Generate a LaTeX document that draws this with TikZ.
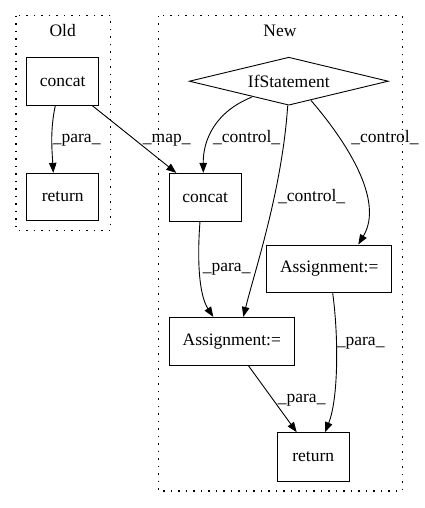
\documentclass[tikz,border=0pt]{standalone}
\usepackage{fontspec}
\setmainfont{Liberation Serif}
\usetikzlibrary{shapes.geometric,arrows.meta}
\begin{document}
\begin{tikzpicture}[x=1pt,y=-1pt,
  every node/.style={font=\fontsize{17.5}{20}\selectfont},
  box/.style={draw,line width=0.9pt,rectangle,inner sep=0pt},
  cond/.style={draw,line width=0.9pt,diamond,aspect=4.15,inner sep=0pt,minimum width=199pt,minimum height=48pt},
  cluster/.style={draw,line width=1.2pt,dash pattern=on 1.5pt off 6pt},
  edge/.style={line width=0.9pt,-{Triangle[length=10pt,width=7.5pt]}},
  lbl/.style={inner sep=0pt}]
\useasboundingbox (0,0) rectangle (425,508);
% clusters
\draw[cluster] (16,15.7) rectangle (110.7,230.7);
\draw[cluster] (158.3,15.7) rectangle (402.3,491);
\node[lbl] (oldlbl) at (62.7,30.7) {Old};
\node[lbl] (newlbl) at (280,30.7) {New};
% nodes
\node[box,minimum width=72pt,minimum height=48pt] (oc) at (62.7,81.3) {concat};
\node[box,minimum width=72pt,minimum height=47.4pt] (or) at (62.7,197) {return};
\node[cond] (if) at (288.8,81.2) {IfStatement};
\node[box,minimum width=72.3pt,minimum height=47.7pt] (nc) at (205.2,197.2) {concat};
\node[box,minimum width=125pt,minimum height=47.7pt] (ra) at (329.2,268.8) {Assignment:=};
\node[box,minimum width=125.7pt,minimum height=47.7pt] (ma) at (231.8,341.2) {Assignment:=};
\node[box,minimum width=72.3pt,minimum height=48.3pt] (ret) at (313.2,456.8) {return};
% edges
\draw[edge] ([xshift=-7.4pt]oc.south) .. controls (50,130) and (52,150) .. ([xshift=-9.4pt]or.north);
\draw[edge] ([xshift=-6.7pt]oc.south east) -- ([xshift=7.7pt]nc.north west);
\draw[edge] ([xshift=-37.1pt,yshift=8.5pt]if.south) .. controls (215,112) and (203,140) .. ([xshift=-1.9pt]nc.north);
\draw[edge] ([xshift=-1.1pt]if.south) .. controls (282,190) and (255,270) .. ([xshift=11.5pt]ma.north);
\draw[edge] ([xshift=22.2pt,yshift=5.2pt]if.south) .. controls (345,140) and (385,200) .. ([xshift=29.1pt]ra.north);
\draw[edge] ([xshift=-5.2pt]nc.south) .. controls (197,260) and (199,295) .. ([xshift=-18.5pt]ma.north);
\draw[edge] ([xshift=3.5pt]ra.south) .. controls (339,340) and (338,400) .. ([xshift=11.8pt]ret.north);
\draw[edge] ([xshift=16.5pt]ma.south) -- ([xshift=-16.5pt]ret.north);
% edge labels
\node[lbl] (l1) at (76.7,140) {\_para\_};
\node[lbl] (l2) at (166.7,140) {\_map\_};
\node[lbl] (l3) at (246.7,138) {\_control\_};
\node[lbl] (l4) at (385,138) {\_control\_};
\node[lbl] (l5) at (311.7,197) {\_control\_};
\node[lbl] (l6) at (226.7,269.3) {\_para\_};
\node[lbl] (l7) at (360.7,343.3) {\_para\_};
\node[lbl] (l8) at (301.7,400) {\_para\_};
\end{tikzpicture}
\end{document}
